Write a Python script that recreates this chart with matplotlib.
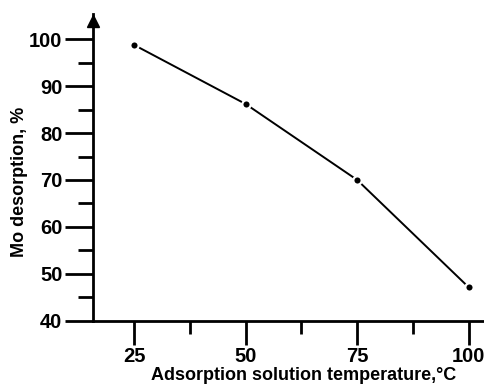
import matplotlib
matplotlib.use("Agg")
import matplotlib.pyplot as plt
from matplotlib.ticker import FixedLocator

temperature = [25, 50, 75, 100]
mo_desorption = [98.8, 86.2, 70.0, 47.1]
x_ticks = [25, 50, 75, 100]
x_minor = [37.5, 62.5, 87.5]
y_ticks = [40, 50, 60, 70, 80, 90, 100]
y_minor = [45, 55, 65, 75, 85, 95]

plt.rcParams['font.family'] = ['Liberation Sans', 'DejaVu Sans']

fig = plt.figure(figsize=(4.84, 3.88), dpi=100)
ax = fig.add_axes([93/484, 67.3/388, 1 - 93/484, 307.2/388])

ax.plot(temperature, mo_desorption, color='black', lw=1.4, zorder=2)
ax.plot(temperature, mo_desorption, linestyle='none', marker='o', ms=6.0,
        mfc='black', mec='white', mew=1.6, zorder=3, clip_on=False)

ax.set_xlim(15.8, 103.4)
ax.set_ylim(40, 105.5)

for s in ['top', 'right']:
    ax.spines[s].set_visible(False)
for s in ['left', 'bottom']:
    ax.spines[s].set_linewidth(2)
    ax.spines[s].set_color('black')

ax.set_xticks(x_ticks)
ax.set_yticks(y_ticks)
ax.xaxis.set_minor_locator(FixedLocator(x_minor))
ax.yaxis.set_minor_locator(FixedLocator(y_minor))
ax.tick_params(axis='both', which='major', direction='out', width=2, color='black',
               labelsize=14.5, pad=2)
ax.tick_params(axis='x', which='major', length=17)
ax.tick_params(axis='y', which='major', length=20)
ax.tick_params(axis='x', which='minor', length=9, width=2)
ax.tick_params(axis='y', which='minor', length=11, width=2)
for lab in ax.get_xticklabels() + ax.get_yticklabels():
    lab.set_fontweight('bold')

# arrow head on y axis
ax.plot([0], [104.0], marker='^', ms=9, color='black',
        transform=ax.get_yaxis_transform(), clip_on=False)

fig.text(304/484, 4/388, 'Adsorption solution temperature,°C', fontsize=13,
         fontweight='bold', ha='center', va='bottom')
fig.text(20/484, (388 - 182)/388, 'Mo desorption, %', fontsize=13,
         fontweight='bold', ha='center', va='center', rotation=90)

fig.savefig('out.png', dpi=100)
